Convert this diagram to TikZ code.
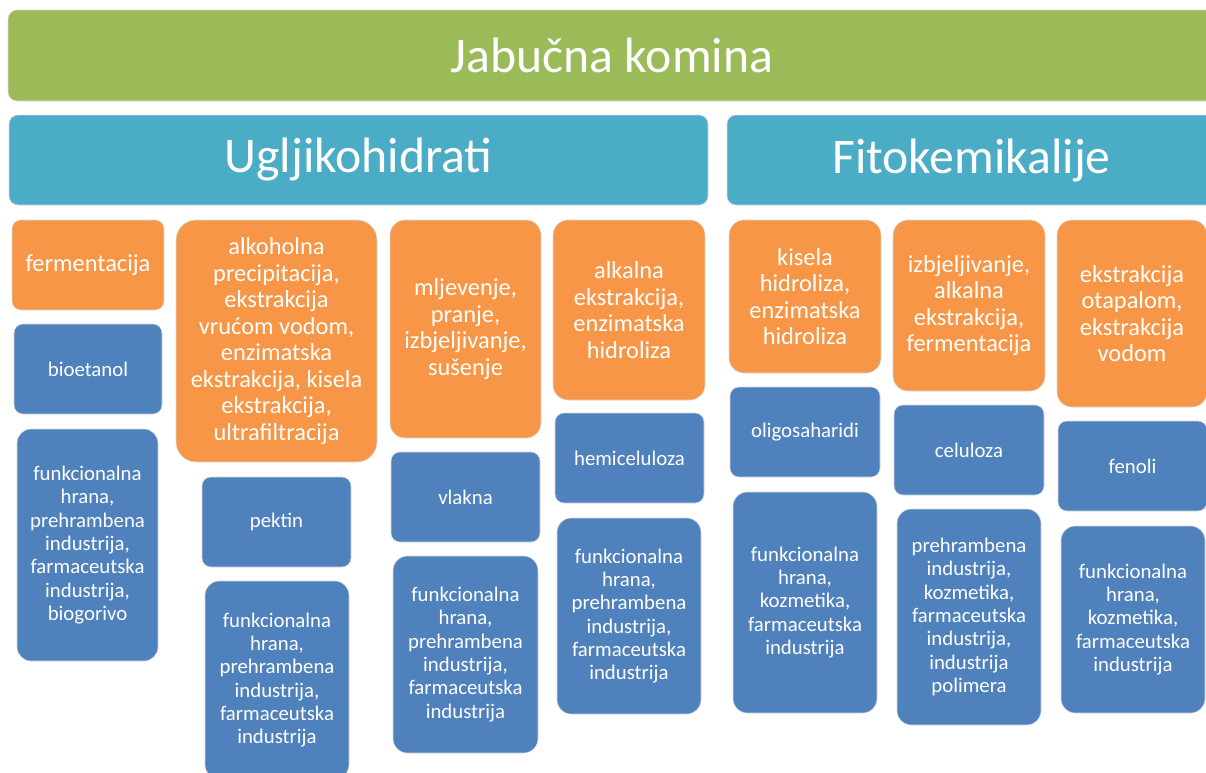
\documentclass[tikz,border=0pt]{standalone}
\usepackage{fontspec}
\setmainfont{Carlito}
\definecolor{cgreen}{HTML}{9BBB59}
\definecolor{cteal}{HTML}{4BACC6}
\definecolor{corange}{HTML}{F79646}
\definecolor{cblue}{HTML}{4F81BD}
\newcommand\bx[7]{%
  \pgfmathsetmacro\bw{(#5-#3)*0.75}%
  \pgfmathsetmacro\bh{(#6-#4)*0.75}%
  \pgfmathsetmacro\bcx{(#3+#5)/2}%
  \pgfmathsetmacro\bcy{(#4+#6)/2}%
  \pgfmathsetmacro\br{min(\bw,\bh)*0.1}%
  \node[#2, minimum width=\bw pt, minimum height=\bh pt, rounded corners=\br pt] (#1) at (\bcx,\bcy) {#7};%
}
\tikzset{
  basebox/.style={rectangle, draw=white!85!black, line width=0.4pt, text=white, align=center, inner sep=0pt},
  topbox/.style={basebox, fill=cgreen, font=\fontsize{37.3}{41}\selectfont},
  catbox/.style={basebox, fill=cteal, font=\fontsize{37.3}{41}\selectfont},
  procbox/.style={basebox, fill=corange, font=\fontsize{18.3}{19.9}\selectfont},
  prodbox/.style={basebox, fill=cblue, font=\fontsize{15.6}{17.5}\selectfont},
}
\begin{document}
\begin{tikzpicture}[x=0.75pt,y=-0.75pt]
\useasboundingbox (0,0) rectangle (1206,772);
\clip (0,0) rectangle (1206,772);
% top
\bx{top}{topbox}{8}{10}{1216}{101}{Jabučna komina}
% categories
\bx{ugh}{catbox}{9}{115}{708}{205}{Ugljikohidrati}
\bx{fito}{catbox}{727}{115}{1216}{205}{Fitokemikalije}
% process boxes
\bx{p1}{procbox}{12}{220}{164}{310}{fermentacija}
\bx{p2}{procbox}{176}{220}{377}{462}{alkoholna\\precipitacija,\\ekstrakcija\\vrućom vodom,\\enzimatska\\ekstrakcija, kisela\\ekstrakcija,\\ultrafiltracija}
\bx{p3}{procbox}{390}{220}{541}{438}{mljevenje,\\pranje,\\izbjeljivanje,\\sušenje}
\bx{p4}{procbox}{553}{220}{705}{400}{alkalna\\ekstrakcija,\\enzimatska\\hidroliza}
\bx{p5}{procbox}{729}{220}{881}{373}{kisela\\hidroliza,\\enzimatska\\hidroliza}
\bx{p6}{procbox}{893}{220}{1045}{391}{izbjeljivanje,\\alkalna\\ekstrakcija,\\fermentacija}
\bx{p7}{procbox}{1057}{220}{1207}{407}{ekstrakcija\\otapalom,\\ekstrakcija\\vodom}
% product boxes
\bx{r1}{prodbox}{14}{324}{162}{414}{bioetanol}
\bx{r2}{prodbox}{202}{477}{351}{567}{pektin}
\bx{r3}{prodbox}{391}{452}{540}{542}{vlakna}
\bx{r4}{prodbox}{555}{413}{704}{503}{hemiceluloza}
\bx{r5}{prodbox}{730}{387}{880}{477}{oligosaharidi}
\bx{r6}{prodbox}{894}{405}{1044}{495}{celuloza}
\bx{r7}{prodbox}{1058}{421}{1207}{511}{fenoli}
% application boxes
\bx{a1}{prodbox}{17}{429}{158}{661}{funkcionalna\\hrana,\\prehrambena\\industrija,\\farmaceutska\\industrija,\\biogorivo}
\bx{a2}{prodbox}{205}{581}{349}{779}{funkcionalna\\hrana,\\prehrambena\\industrija,\\farmaceutska\\industrija}
\bx{a3}{prodbox}{393}{556}{538}{753}{funkcionalna\\hrana,\\prehrambena\\industrija,\\farmaceutska\\industrija}
\bx{a4}{prodbox}{557}{518}{701}{714}{funkcionalna\\hrana,\\prehrambena\\industrija,\\farmaceutska\\industrija}
\bx{a5}{prodbox}{733}{492}{877}{713}{funkcionalna\\hrana,\\kozmetika,\\farmaceutska\\industrija}
\bx{a6}{prodbox}{897}{509}{1041}{725}{prehrambena\\industrija,\\kozmetika,\\farmaceutska\\industrija,\\industrija\\polimera}
\bx{a7}{prodbox}{1061}{526}{1205}{713}{funkcionalna\\hrana,\\kozmetika,\\farmaceutska\\industrija}
\end{tikzpicture}
\end{document}
